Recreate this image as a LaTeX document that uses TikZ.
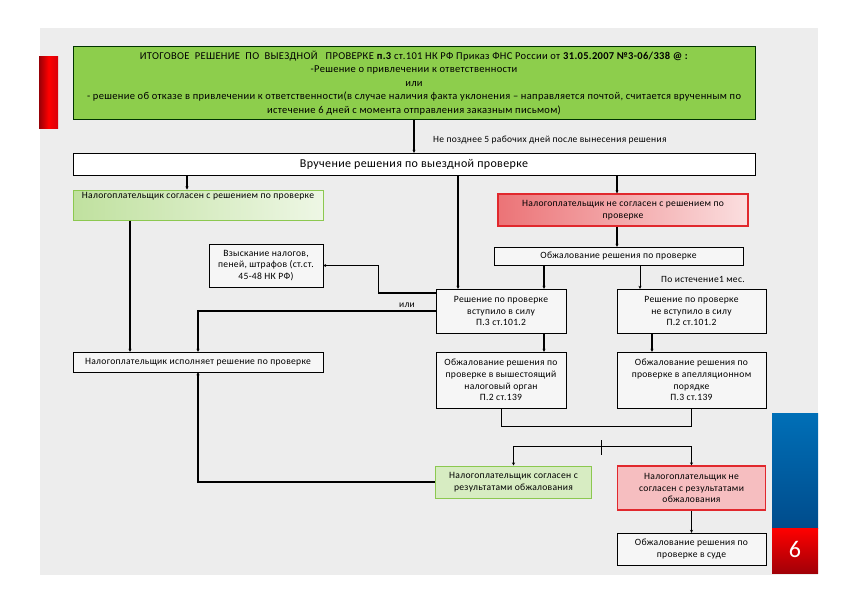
\documentclass[tikz,border=0pt]{standalone}
\usepackage{fontspec}
\setmainfont{Carlito}
\newfontfamily\slidefont[LetterSpace=3]{Carlito}
\usetikzlibrary{arrows.meta}

\definecolor{slidegray}{RGB}{237,237,237}
\definecolor{boxwhite}{RGB}{246,246,246}
\definecolor{topgreen}{RGB}{141,206,76}
\definecolor{agreeline}{RGB}{140,200,80}
\definecolor{disagreeline}{RGB}{225,40,45}
\definecolor{flagred}{RGB}{215,0,10}
\definecolor{flagblue}{RGB}{0,95,175}

\tikzset{
    plain box/.style={
        draw,thin,fill=boxwhite,align=center,inner sep=1pt,
        font=\slidefont\fontsize{9.6}{11.7}\selectfont
    },
    agree box/.style={
        plain box,draw=agreeline,line width=1pt
    },
    disagree box/.style={
        plain box,draw=disagreeline,line width=1.2pt
    },
    link/.style={line width=1.3pt},
    note/.style={font=\slidefont\fontsize{9.5}{11.7}\selectfont,inner sep=1pt}
}

\begin{document}
\begin{tikzpicture}[x=1pt,y=-1pt,>={Stealth[length=3pt,width=3pt]}]
        \useasboundingbox (0,0) rectangle (842,595);
        \fill[slidegray] (40,28) rectangle (818,575);
        \shade[left color=flagred!70!black,right color=flagred,middle color=red] (39,56) rectangle (58,128);
        \shade[top color=flagblue!90!cyan,bottom color=flagblue!80!black] (772,413) rectangle (818,528);
        \shade[top color=red,bottom color=flagred!75!black] (772,528) rectangle (818,573);
        \node[text=white,font=\fontsize{24}{24}\selectfont] (page) at (795,549) {6};

        \node[plain box,fill=topgreen,draw=black!80!green,minimum width=682pt,minimum height=73pt,
            font=\slidefont\fontsize{10.5}{13.4}\selectfont] (final) at (414,83)
            {ИТОГОВОЕ \ РЕШЕНИЕ \ ПО \ ВЫЕЗДНОЙ \ \ ПРОВЕРКЕ \textbf{п.3} ст.101 НК РФ Приказ ФНС России от \textbf{31.05.2007 №3-06/338 @ :}\\
             -Решение о привлечении к ответственности\\
             или\\
             - решение об отказе в привлечении к ответственности(в случае наличия факта уклонения – направляется почтой, считается врученным по\\
             истечение 6 дней с момента отправления заказным письмом)};
        \node[plain box,fill=white,minimum width=682pt,minimum height=22pt,
            font=\slidefont\fontsize{12}{13}\selectfont] (handover) at (414,164) {Вручение решения по выездной проверке};
        \node[agree box,left color=agreeline!55!white,right color=agreeline!15!white,
            minimum width=250pt,minimum height=30pt] (agree) at (198,205)
            {Налогоплательщик согласен с решением по проверке\\[7pt]};
        \node[disagree box,left color=disagreeline!65!white,right color=disagreeline!15!white,
            minimum width=250pt,minimum height=32pt] (disagree) at (623,210)
            {Налогоплательщик не согласен с решением по\\проверке};
        \node[plain box,minimum width=249pt,minimum height=18pt] (appeal) at (618.5,256)
            {Обжалование решения по проверке};
        \node[plain box,minimum width=114pt,minimum height=43pt] (recovery) at (266,265.5)
            {Взыскание налогов,\\пеней, штрафов (ст.ст.\\45-48 НК РФ)};
        \node[plain box,minimum width=130pt,minimum height=44pt] (inforce) at (501,311)
            {Решение по проверке\\вступило в силу\\П.3 ст.101.2};
        \node[plain box,minimum width=149pt,minimum height=44pt] (notinforce) at (691.5,311)
            {Решение по проверке\\не вступило в силу\\П.2 ст.101.2};
        \node[plain box,minimum width=250pt,minimum height=20pt] (execute) at (198,362)
            {Налогоплательщик исполняет решение по проверке};
        \node[plain box,minimum width=130pt,minimum height=56pt] (higher) at (501,380)
            {Обжалование решения по\\проверке в вышестоящий\\налоговый орган\\П.2 ст.139};
        \node[plain box,minimum width=149pt,minimum height=56pt] (appellate) at (691.5,380)
            {Обжалование решения по\\проверке в апелляционном\\порядке\\П.3 ст.139};
        \node[agree box,fill=agreeline!35!white,minimum width=156pt,minimum height=32pt] (agreeres) at (513.5,482)
            {Налогоплательщик согласен с\\результатами обжалования};
        \node[disagree box,fill=disagreeline!30!white,minimum width=148pt,minimum height=44pt] (disagreeres) at (691.5,488)
            {Налогоплательщик не\\согласен с результатами\\обжалования};
        \node[plain box,minimum width=149pt,minimum height=32pt] (court) at (691.5,549)
            {Обжалование решения по\\проверке в суде};

        \draw[link,->] (final) -- (handover);
        \node[note,anchor=west] (deadline) at (432,140) {Не позднее 5 рабочих дней после вынесения решения};
        \draw[link,->] ([xshift=-11pt]agree.north |- handover.south) -- ([xshift=-11pt]agree.north);
        \draw[link,->] ([xshift=-43pt]inforce.north |- handover.south) -- ([xshift=-43pt]inforce.north);
        \draw[link,->] ([xshift=-6pt]disagree.north |- handover.south) -- ([xshift=-6pt]disagree.north);
        \draw[link,->] ([xshift=-6pt]disagree.south) -- ([xshift=-6pt]disagree.south |- appeal.north);
        \draw[link,->] ([xshift=43pt]inforce.north |- appeal.south) -- ([xshift=43pt]inforce.north);
        \draw[thin,->] ([xshift=-51.5pt]notinforce.north |- appeal.south) -- ([xshift=-51.5pt]notinforce.north);
        \node[note,anchor=west] (month) at (660,279) {По истечение1 мес.};
        \draw[link,->] ([xshift=43pt]inforce.south) -- ([xshift=43pt]higher.north);
        \draw[link,->] ([xshift=-39.5pt]notinforce.south) -- ([xshift=-39.5pt]appellate.north);
        \draw[link,->] ([xshift=-68pt]agree.south) -- ([xshift=-68pt]execute.north);
        \draw[link,->] (inforce.west) -| (execute.north);
        \node[note] (or) at (407,305) {или};
        \draw[link,->] ([yshift=18pt]inforce.west) -- ++(-57,0) |- (recovery.east);
        \draw[thin] (higher.south) -- ++(0,18) -| (appellate.south);
        \draw[link,<->] (agreeres.north) -- ++(0,-19) -| (disagreeres.north);
        \coordinate (tick top) at (601,440);
        \coordinate (tick bottom) at (601,455);
        \draw[thin] (tick top) -- (tick bottom);
        \draw[link,->] (agreeres.west) -| (execute.south);
        \draw[link,->] (disagreeres) -- (court);
    \end{tikzpicture}
\end{document}
